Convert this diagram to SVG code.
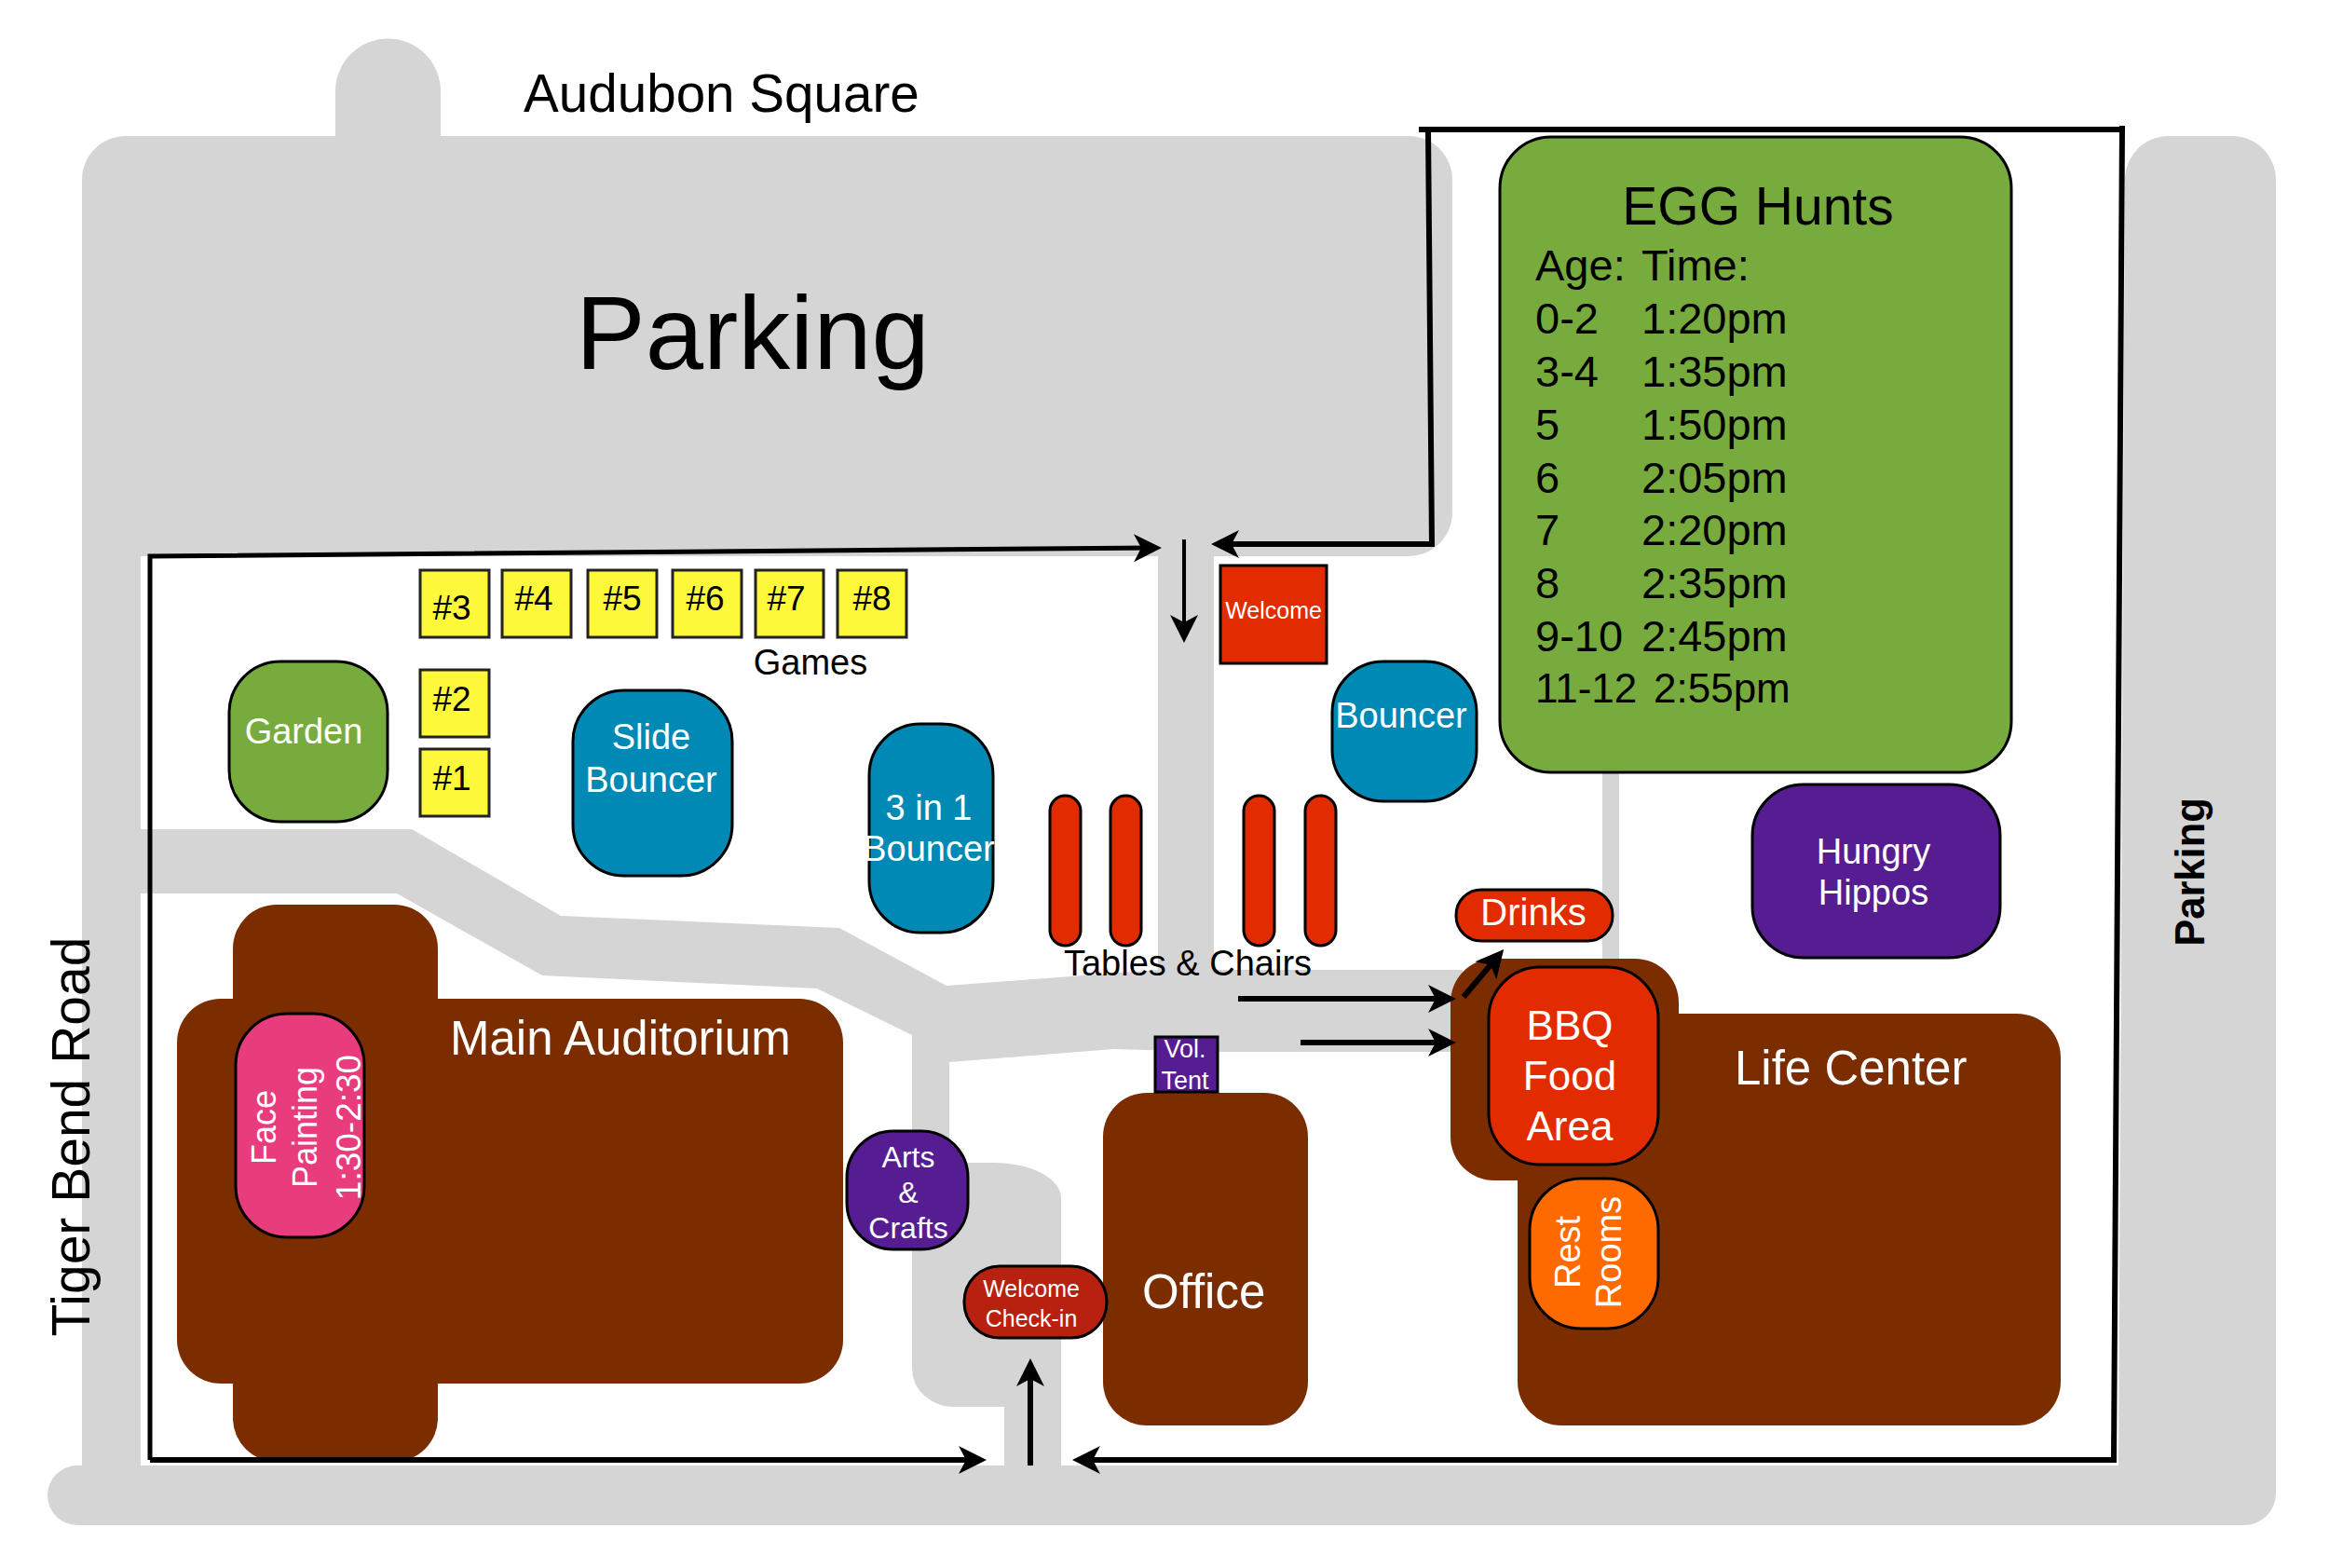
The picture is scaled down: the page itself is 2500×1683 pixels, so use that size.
<svg xmlns="http://www.w3.org/2000/svg" width="2500" height="1683" viewBox="0 0 2500 1683">
<style>
text{font-family:"Liberation Sans",Arial,sans-serif;fill:#000}
.w{fill:#fff}
.m{text-anchor:middle}
.g{fill:#d5d5d5}
.b{fill:#7b2d00}
.n{stroke:#000;stroke-width:3}
.y{fill:#fdf93a;stroke:#222;stroke-width:3}
.t{fill:#0089b4}
.p{fill:#561d93}
.r{fill:#e32b00}
.gr{fill:#78ab3d}
.c{fill:none;stroke:#000;stroke-width:6;marker-end:url(#ah)}
</style>
<defs><marker id="ah" markerUnits="userSpaceOnUse" markerWidth="40" markerHeight="40" viewBox="-2 -20 40 40" refX="22" refY="0" orient="auto"><path d="M0,-15 L30,0 L0,15 L8,0 Z" fill="#000"/></marker></defs>
<rect width="2500" height="1683" fill="#fff"/>
<g id="ground">
<path class="g" d="M360,150V98a56,56 0 0 1 113,0V150Z"/>
<path class="g" d="M88,193a47,47 0 0 1 47,-47H1512a47,47 0 0 1 47,47V550a47,47 0 0 1 -47,47H151V1578H88Z"/>
<path class="g" d="M2281,193a47,47 0 0 1 47,-47H2396a47,47 0 0 1 47,47V1603a34,34 0 0 1 -34,34H83a32,32 0 0 1 0,-64H2274Z"/>
<path class="g" d="M1243,590H1303V1041H1570V1129H1300L1196,1126L1019,1140V1248H1068a71,38 0 0 1 71,38V1578H1078V1510H1024a45,41 0 0 1 -45,-41V1111L877,1061L582,1047L426,959H151V890H442L602,983L901,996L1016,1058L1243,1041Z"/>
<rect class="g" x="1720" y="825" width="18" height="220"/>
</g>
<g id="main-auditorium">
<rect class="b" x="190" y="1072" width="715" height="413" rx="47"/>
<rect class="b" x="250" y="971" width="220" height="598" rx="47"/>
<text class="w" x="483" y="1132" font-size="51">Main Auditorium</text>
</g>
<g id="office">
<rect class="b" x="1184" y="1173" width="220" height="357" rx="47"/>
<text class="w" x="1226" y="1404" font-size="51">Office</text>
</g>
<g id="life-center">
<rect class="b" x="1629" y="1088" width="583" height="442" rx="47"/>
<rect class="b" x="1557" y="1029" width="245" height="238" rx="47"/>
<text class="w" x="1862" y="1164" font-size="51">Life Center</text>
</g>
<g id="face-painting">
<rect class="n" fill="#e83c7d" x="253" y="1088" width="138" height="240" rx="55"/>
<text class="w m" font-size="36" transform="translate(296 1210) rotate(-90)">Face</text>
<text class="w m" font-size="36" transform="translate(340 1210) rotate(-90)">Painting</text>
<text class="w m" font-size="37" transform="translate(387 1210) rotate(-90)">1:30-2:30</text>
</g>
<g id="arts-crafts" font-size="32">
<rect class="n p" x="909" y="1214" width="130" height="127" rx="50"/>
<text class="w m" x="975" y="1253">Arts</text>
<text class="w m" x="975" y="1291">&amp;</text>
<text class="w m" x="975" y="1329">Crafts</text>
</g>
<g id="welcome-checkin" font-size="25">
<rect class="n" fill="#b8200f" x="1035" y="1359" width="153" height="77" rx="38"/>
<text class="w m" x="1107" y="1392">Welcome</text>
<text class="w m" x="1107" y="1424">Check-in</text>
</g>
<g id="vol-tent" font-size="27">
<rect class="n p" x="1240" y="1113" width="67" height="59"/>
<text class="w m" x="1272" y="1135">Vol.</text>
<text class="w m" x="1272" y="1169">Tent</text>
</g>
<g id="bbq" font-size="44">
<rect class="n r" x="1598" y="1038" width="182" height="212" rx="55"/>
<text class="w m" x="1685" y="1116">BBQ</text>
<text class="w m" x="1685" y="1170">Food</text>
<text class="w m" x="1685" y="1224">Area</text>
</g>
<g id="rest-rooms" font-size="38">
<rect class="n" fill="#ff6a00" x="1642" y="1265" width="138" height="161" rx="55"/>
<text class="w m" transform="translate(1696 1344) rotate(-90)">Rest</text>
<text class="w m" transform="translate(1740 1344) rotate(-90)">Rooms</text>
</g>
<g id="drinks">
<rect class="n r" x="1563" y="955" width="168" height="55" rx="27"/>
<text class="w m" x="1646" y="993" font-size="40">Drinks</text>
</g>
<g id="hungry-hippos" font-size="38">
<rect class="n p" x="1881" y="842" width="266" height="186" rx="55"/>
<text class="w m" x="2011" y="927">Hungry</text>
<text class="w m" x="2011" y="971">Hippos</text>
</g>
<g id="egg-hunts" font-size="47">
<rect class="n gr" x="1610" y="147" width="549" height="682" rx="55"/>
<text class="m" x="1887" y="241" font-size="57">EGG Hunts</text>
<text x="1648" y="301">Age:</text><text x="1762" y="301">Time:</text>
<text x="1648" y="358">0-2</text><text x="1762" y="358">1:20pm</text>
<text x="1648" y="415">3-4</text><text x="1762" y="415">1:35pm</text>
<text x="1648" y="472">5</text><text x="1762" y="472">1:50pm</text>
<text x="1648" y="529">6</text><text x="1762" y="529">2:05pm</text>
<text x="1648" y="585">7</text><text x="1762" y="585">2:20pm</text>
<text x="1648" y="642">8</text><text x="1762" y="642">2:35pm</text>
<text x="1648" y="699">9-10</text><text x="1762" y="699">2:45pm</text>
<text x="1648" y="754" font-size="44">11-12</text><text x="1775" y="754" font-size="44">2:55pm</text>
</g>
<g id="welcome">
<rect class="n r" x="1310" y="607" width="114" height="105"/>
<text class="w m" x="1367" y="664" font-size="25">Welcome</text>
</g>
<g id="bouncer">
<rect class="n t" x="1430" y="710" width="155" height="150" rx="55"/>
<text class="w m" x="1504" y="781" font-size="38">Bouncer</text>
</g>
<g id="three-in-one" font-size="38">
<rect class="n t" x="933" y="777" width="133" height="224" rx="55"/>
<text class="w m" x="997" y="880">3 in 1</text>
<text class="w m" x="997" y="924">Bouncer</text>
</g>
<g id="slide-bouncer" font-size="38">
<rect class="n t" x="615" y="741" width="171" height="199" rx="55"/>
<text class="w m" x="699" y="804">Slide</text>
<text class="w m" x="699" y="850">Bouncer</text>
</g>
<g id="garden">
<rect class="n gr" x="246" y="710" width="170" height="172" rx="55"/>
<text class="w m" x="326" y="798" font-size="38">Garden</text>
</g>
<g font-size="37">
<g id="game-3"><rect class="y" x="451" y="612" width="74" height="72"/><text class="m" x="485" y="665">#3</text></g>
<g id="game-4"><rect class="y" x="539" y="612" width="74" height="72"/><text class="m" x="573" y="655">#4</text></g>
<g id="game-5"><rect class="y" x="631" y="612" width="74" height="72"/><text class="m" x="668" y="655">#5</text></g>
<g id="game-6"><rect class="y" x="722" y="612" width="74" height="72"/><text class="m" x="757" y="655">#6</text></g>
<g id="game-7"><rect class="y" x="811" y="612" width="73" height="72"/><text class="m" x="844" y="655">#7</text></g>
<g id="game-8"><rect class="y" x="899" y="612" width="74" height="72"/><text class="m" x="936" y="655">#8</text></g>
<g id="game-2"><rect class="y" x="451" y="719" width="74" height="72"/><text class="m" x="485" y="763">#2</text></g>
<g id="game-1"><rect class="y" x="451" y="804" width="74" height="72"/><text class="m" x="485" y="848">#1</text></g>
</g>
<g id="tables">
<rect class="n r" x="1127" y="854" width="33" height="161" rx="16.5"/>
<rect class="n r" x="1192" y="854" width="33" height="161" rx="16.5"/>
<rect class="n r" x="1335" y="854" width="33" height="161" rx="16.5"/>
<rect class="n r" x="1401" y="854" width="33" height="161" rx="16.5"/>
</g>
<g id="labels">
<text x="562" y="120" font-size="56.6">Audubon Square</text>
<text x="618" y="396" font-size="112">Parking</text>
<text class="m" x="870" y="724" font-size="38">Games</text>
<text class="m" x="1275" y="1047" font-size="38">Tables &amp; Chairs</text>
<text class="m" transform="translate(96 1220) rotate(-90)" font-size="57">Tiger Bend Road</text>
<text class="m" transform="translate(2366 936) rotate(-90)" font-size="43.5" font-weight="700">Parking</text>
</g>
<g id="connectors">
<path class="c" style="stroke-width:5" d="M161,1567V597L1239,588"/>
<path class="c" d="M161,1567H1051"/>
<path class="c" d="M1523,139H2278M1533,139L1537,584H1308"/>
<path class="c" d="M2278,135L2269,1567H1159"/>
<path class="c" d="M1106,1573V1466"/>
<path class="c" style="stroke-width:4" d="M1271,579V682"/>
<path class="c" d="M1329,1072H1555"/>
<path class="c" d="M1396,1119H1555"/>
<path class="c" d="M1571,1070L1609,1025"/>
</g>
</svg>
